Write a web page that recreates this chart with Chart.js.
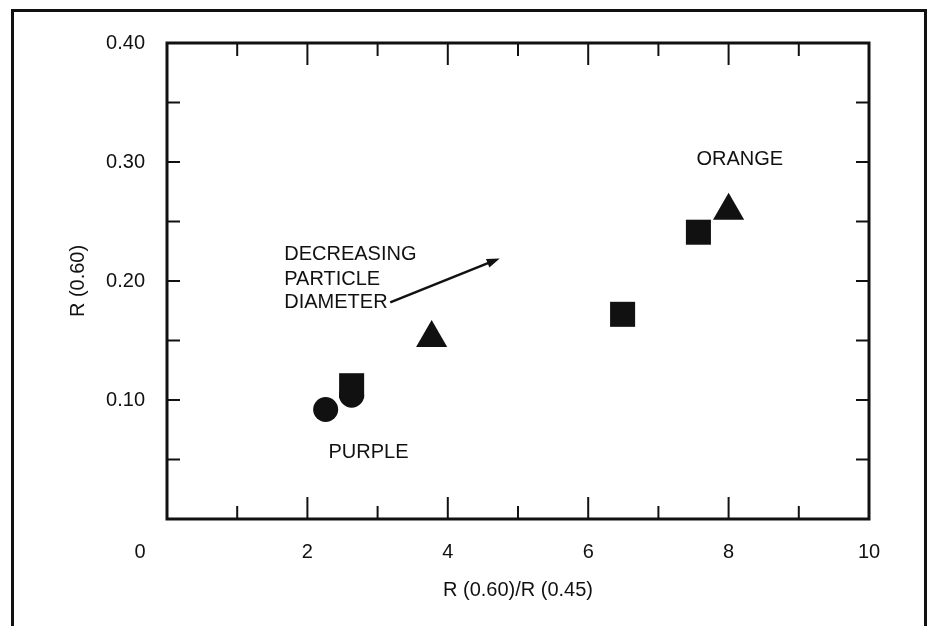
<!DOCTYPE html>
<html>
<head>
<meta charset="utf-8">
<script src="https://cdn.jsdelivr.net/npm/chart.js@4.4.1/dist/chart.umd.min.js"></script>
<style>
  html, body { margin: 0; padding: 0; background: #fff; }
  #wrap { position: relative; width: 932px; height: 626px; overflow: hidden; }
  #outer { position: absolute; left: 11px; top: 9px; width: 910px; height: 700px;
           border: 3px solid #111; border-bottom: none; }
  canvas { position: absolute; left: 0; top: 0; }
</style>
</head>
<body>
<div id="wrap">
  <div id="outer"></div>
  <canvas id="chart" width="932" height="626"></canvas>
</div>
<script>
// Data
const circleX = [2.26, 2.63];
const circleY = [0.092, 0.104];
const squareX = [2.63, 6.49, 7.57];
const squareY = [0.112, 0.172, 0.241];
const triangleX = [3.77, 8.0];
const triangleY = [0.152, 0.259];

// Axis tick marks (drawn inward on all four sides)
const xMajorTicks = [0, 2, 4, 6, 8, 10];
const xMinorTicks = [1, 3, 5, 7, 9];
const yTickMarks = [0.05, 0.10, 0.15, 0.20, 0.25, 0.30, 0.35];

// Annotations
const noteText = ['ORANGE', 'PURPLE'];
const noteX = [8.16, 2.87];
const noteY = [0.302, 0.056];
const arrowLines = ['DECREASING', 'PARTICLE', 'DIAMETER'];
const arrowLinesX = 1.67;
const arrowLinesY = [0.222, 0.201, 0.182];
const arrowFrom = [3.18, 0.182];
const arrowTo = [4.74, 0.219];

const INK = '#111';
const FONT = '"Liberation Sans", Arial, sans-serif';

const toPts = (xs, ys) => xs.map((v, i) => ({ x: v, y: ys[i] }));

// Frame + inward ticks
const frameTicks = {
  id: 'frameTicks',
  afterDraw(chart) {
    const { ctx, chartArea: a, scales: { x, y } } = chart;
    const seg = (x1, y1, x2, y2) => { ctx.beginPath(); ctx.moveTo(x1, y1); ctx.lineTo(x2, y2); ctx.stroke(); };
    ctx.save();
    ctx.strokeStyle = INK;
    ctx.lineWidth = 2;
    const xt = (v, len) => {
      const px = x.getPixelForValue(v);
      seg(px, a.bottom, px, a.bottom - len);
      seg(px, a.top, px, a.top + len);
    };
    xMajorTicks.forEach(v => xt(v, 22));
    xMinorTicks.forEach(v => xt(v, 13));
    yTickMarks.forEach(v => {
      const py = y.getPixelForValue(v);
      seg(a.left, py, a.left + 13, py);
      seg(a.right, py, a.right - 13, py);
    });
    ctx.lineWidth = 3;
    ctx.strokeRect(a.left, a.top, a.right - a.left, a.bottom - a.top);
    ctx.restore();
  }
};

// Texts and arrow inside the plot
const notes = {
  id: 'notes',
  afterDraw(chart) {
    const { ctx, chartArea: a, scales: { x, y } } = chart;
    ctx.save();
    ctx.fillStyle = INK;
    ctx.strokeStyle = INK;
    ctx.font = '20px ' + FONT;
    ctx.textBaseline = 'middle';

    // the lone "0" sits left of the corner
    ctx.textAlign = 'center';
    ctx.fillText('0', x.getPixelForValue(0) - 27, a.bottom + 33);

    noteText.forEach((t, i) => ctx.fillText(t, x.getPixelForValue(noteX[i]), y.getPixelForValue(noteY[i])));

    ctx.textAlign = 'left';
    arrowLines.forEach((t, i) => ctx.fillText(t, x.getPixelForValue(arrowLinesX), y.getPixelForValue(arrowLinesY[i])));

    const x1 = x.getPixelForValue(arrowFrom[0]), y1 = y.getPixelForValue(arrowFrom[1]);
    const x2 = x.getPixelForValue(arrowTo[0]), y2 = y.getPixelForValue(arrowTo[1]);
    const ang = Math.atan2(y2 - y1, x2 - x1);
    ctx.lineWidth = 2.5;
    ctx.beginPath();
    ctx.moveTo(x1, y1);
    ctx.lineTo(x2 - 10 * Math.cos(ang), y2 - 10 * Math.sin(ang));
    ctx.stroke();
    ctx.beginPath();
    ctx.moveTo(x2, y2);
    ctx.lineTo(x2 - 13 * Math.cos(ang) + 4.5 * Math.sin(ang), y2 - 13 * Math.sin(ang) - 4.5 * Math.cos(ang));
    ctx.lineTo(x2 - 13 * Math.cos(ang) - 4.5 * Math.sin(ang), y2 - 13 * Math.sin(ang) + 4.5 * Math.cos(ang));
    ctx.closePath();
    ctx.fill();
    ctx.restore();
  }
};

Chart.defaults.font.family = FONT;
Chart.defaults.font.size = 20;
Chart.defaults.color = INK;

new Chart(document.getElementById('chart'), {
  type: 'scatter',
  data: {
    datasets: [
      { label: 'circle', data: toPts(circleX, circleY), pointStyle: 'circle', pointRadius: 12.5,
        backgroundColor: INK, borderWidth: 0 },
      { label: 'square', data: toPts(squareX, squareY), pointStyle: 'rect', pointRadius: 17.7,
        backgroundColor: INK, borderWidth: 0 },
      { label: 'triangle', data: toPts(triangleX, triangleY), pointStyle: 'triangle', pointRadius: 18,
        backgroundColor: INK, borderWidth: 0 }
    ]
  },
  options: {
    responsive: false,
    animation: false,
    events: [],
    layout: { padding: { left: 0, top: 43, right: 63, bottom: 0 } },
    plugins: { legend: { display: false }, tooltip: { enabled: false } },
    scales: {
      x: {
        type: 'linear', min: 0, max: 10,
        grid: { display: false, drawTicks: false, tickLength: 0 },
        border: { display: false },
        ticks: { stepSize: 2, padding: 21, callback: v => (v === 0 ? '' : String(v)) },
        title: { display: true, text: 'R (0.60)/R (0.45)', padding: { top: 0, bottom: 24 } },
        afterFit: s => { s.height = 107; }
      },
      y: {
        type: 'linear', min: 0, max: 0.4,
        grid: { display: false, drawTicks: false, tickLength: 0 },
        border: { display: false },
        ticks: { stepSize: 0.1, padding: 22, callback: v => (v === 0 ? '' : v.toFixed(2)) },
        title: { display: true, text: 'R (0.60)', padding: { top: 66, bottom: 0 } },
        afterFit: s => { s.width = 167; }
      }
    }
  },
  plugins: [frameTicks, notes]
});
</script>
</body>
</html>
